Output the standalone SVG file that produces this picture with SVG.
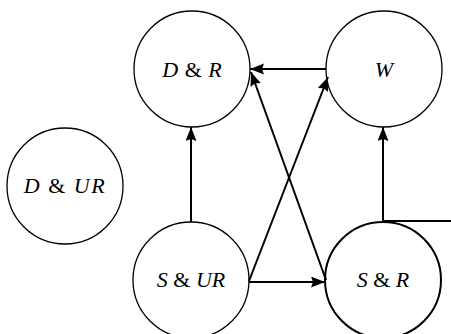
<svg xmlns="http://www.w3.org/2000/svg" width="451" height="334" viewBox="0 0 451 334">
<style>
.node{fill:#fff;stroke:#000;stroke-width:1.3}
.bold{stroke-width:2}
.lbl{font-family:"Liberation Serif","DejaVu Serif",serif;font-size:22px;text-anchor:middle;fill:#000}
.it{font-style:italic}
.edge{stroke:#000;stroke-width:2;fill:none}
</style>
<defs>
<marker id="ah" markerUnits="userSpaceOnUse" markerWidth="16" markerHeight="12" refX="14" refY="5.5" orient="auto">
<path d="M0,0 L14,5.5 L0,11 L2,5.5 Z" fill="#000"/>
</marker>
</defs>
<g id="connectors">
<line class="edge" x1="191" y1="222" x2="191" y2="127" marker-end="url(#ah)"/>
<line class="edge" x1="326" y1="69" x2="250" y2="69" marker-end="url(#ah)"/>
<line class="edge" x1="249" y1="282" x2="325" y2="282" marker-end="url(#ah)"/>
<line class="edge" x1="383" y1="221" x2="383" y2="127" marker-end="url(#ah)"/>
<line class="edge" x1="383" y1="221" x2="451" y2="221"/>
<line class="edge" x1="249" y1="281" x2="328" y2="77" marker-end="url(#ah)"/>
<line class="edge" x1="326" y1="280" x2="251" y2="72" marker-end="url(#ah)"/>
</g>
<g id="DR"><circle class="node" cx="192" cy="69" r="58" style="fill:none"/><text class="lbl" x="192" y="77" word-spacing="1"><tspan class="it">D</tspan> &amp; <tspan class="it">R</tspan></text></g>
<g id="W"><circle class="node" cx="384" cy="69" r="58" style="fill:none"/><text class="lbl" x="384" y="77"><tspan class="it">W</tspan></text></g>
<g id="DUR"><circle class="node" cx="65" cy="186" r="58"/><text class="lbl" x="65" y="193" letter-spacing="1.5"><tspan class="it">D</tspan> &amp; <tspan class="it">UR</tspan></text></g>
<g id="SUR"><circle class="node" cx="191" cy="280" r="58" style="fill:none"/><text class="lbl" x="191" y="287"><tspan class="it">S</tspan> &amp; <tspan class="it">UR</tspan></text></g>
<g id="SR"><circle class="node bold" cx="383" cy="280" r="58" style="fill:none"/><text class="lbl" x="383" y="287"><tspan class="it">S</tspan> &amp; <tspan class="it">R</tspan></text></g>
</svg>
